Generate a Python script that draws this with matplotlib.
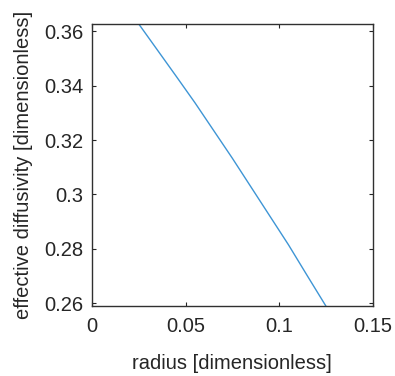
import matplotlib
matplotlib.use("Agg")
import matplotlib.pyplot as plt
import numpy as np

radius = [0.025, 0.035, 0.045, 0.055, 0.065, 0.075, 0.085, 0.095, 0.105, 0.115, 0.125]
diffusivity = [0.3626, 0.3530, 0.3434, 0.3337, 0.3235, 0.3133, 0.3027, 0.2921, 0.2815, 0.2702, 0.2590]
xticks = [0, 0.05, 0.1, 0.15]
xticklabels = ["0", "0.05", "0.1", "0.15"]
yticks = [0.26, 0.28, 0.30, 0.32, 0.34, 0.36]
yticklabels = ["0.26", "0.28", "0.3", "0.32", "0.34", "0.36"]

plt.rcParams['font.family'] = ['Liberation Sans', 'DejaVu Sans']
fig = plt.figure(figsize=(3.95, 3.76), dpi=100)
ax = fig.add_axes([0.233, 0.186, 0.7105, 0.750])
ax.plot(radius, diffusivity, color='#3E95D5', linewidth=1.0)
ax.set_xlim(0, 0.15)
ax.set_ylim(min(diffusivity), max(diffusivity))
ax.set_xticks(xticks)
ax.set_xticklabels(xticklabels)
ax.set_yticks(yticks)
ax.set_yticklabels(yticklabels)
ax.tick_params(direction='in', length=3, width=0.8, top=True, right=True,
               labelsize=14.5, colors='#262626', labelcolor='#262626')
ax.tick_params(axis='x', pad=8)
ax.tick_params(axis='y', pad=6)
for s in ax.spines.values():
    s.set_color('#303030')
    s.set_linewidth(1.0)
ax.set_xlabel('radius [dimensionless]', fontsize=14.5, color='#262626', labelpad=13)
ax.set_ylabel('effective diffusivity [dimensionless]', fontsize=14.5, color='#262626', labelpad=8)
fig.savefig('out.png', dpi=100)
